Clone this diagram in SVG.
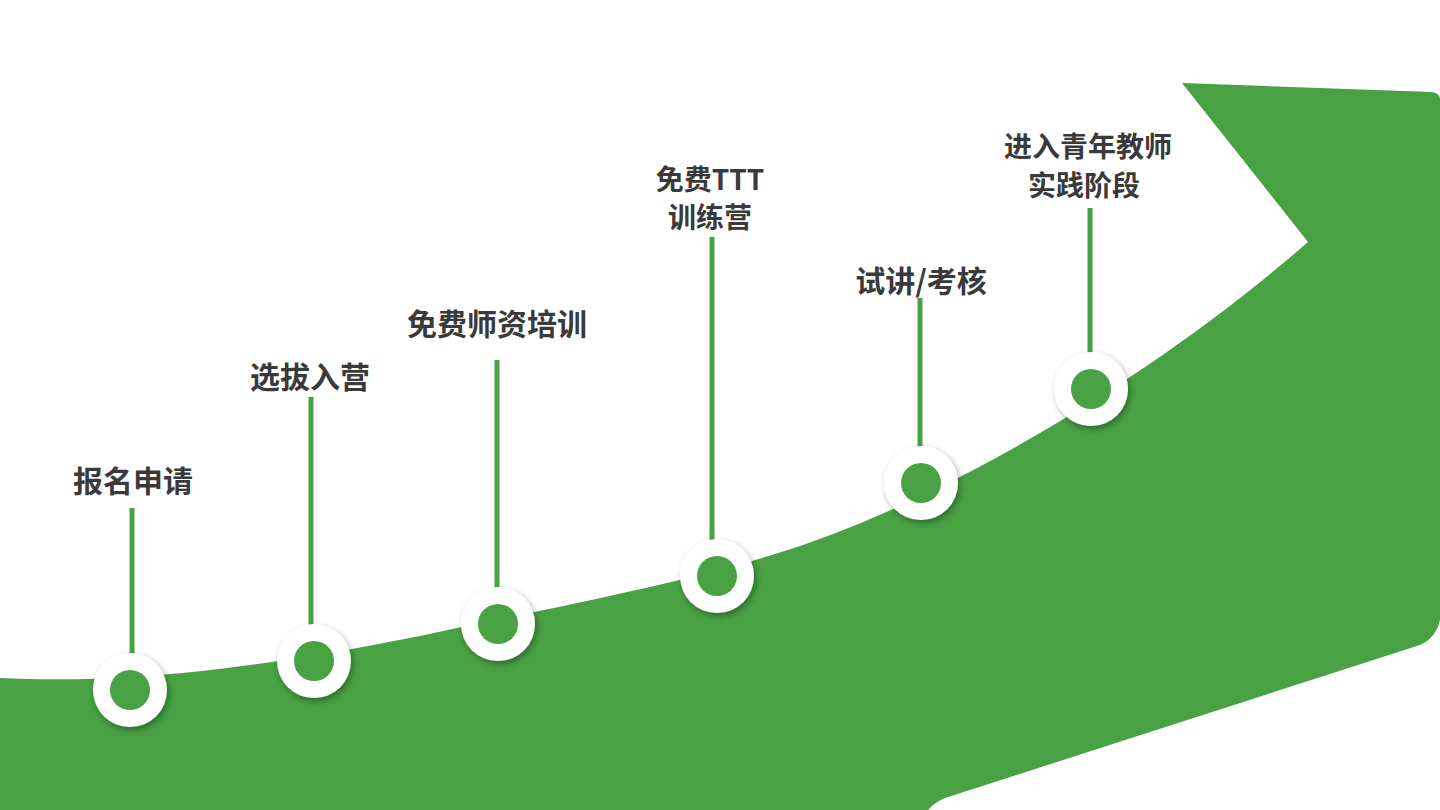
<svg xmlns="http://www.w3.org/2000/svg" width="1440" height="810" viewBox="0 0 1440 810">
<style>
.t{font-family:"Noto Sans CJK SC","Liberation Serif",serif;font-weight:700;font-size:30px;fill:#3a3a3a;text-anchor:middle}
.m{font-size:28px}
.s{stroke:#48a143;stroke-width:5;fill:none}
.o{fill:#fff;filter:url(#sh)}
.i{fill:#48a143}
</style>
<defs>
<filter id="sh" x="-30%" y="-30%" width="160%" height="160%"><feDropShadow dx="2" dy="3" stdDeviation="3" flood-color="#000" flood-opacity="0.35"/></filter>
</defs>
<rect width="1440" height="810" fill="#fff"/>
<path d="M0,678 C120,684 250,670 420,636 C560,606 700,580 800,546 C950,495 1150,380 1308,242 L1182,83 L1432,92 Q1440,93 1440,100 L1440,620 Q1436,638 1420,645 L945,798 Q935,802 928,810 L0,810 Z" fill="#48a143"/>
<g id="connectors">
<line class="s" x1="132" y1="508" x2="132" y2="660"/>
<line class="s" x1="311" y1="397" x2="311" y2="632"/>
<line class="s" x1="497" y1="360" x2="497" y2="592"/>
<line class="s" x1="712" y1="237" x2="712" y2="545"/>
<line class="s" x1="920" y1="298" x2="920" y2="452"/>
<line class="s" x1="1090" y1="208" x2="1090" y2="358"/>
</g>
<g id="n1"><circle class="o" cx="130" cy="690" r="37"/><circle class="i" cx="130" cy="690" r="20"/><text class="t" x="133" y="492">报名申请</text></g>
<g id="n2"><circle class="o" cx="314" cy="661" r="37"/><circle class="i" cx="314" cy="661" r="20"/><text class="t" x="310" y="388">选拔入营</text></g>
<g id="n3"><circle class="o" cx="498" cy="624" r="37"/><circle class="i" cx="498" cy="624" r="20"/><text class="t" x="497" y="335">免费师资培训</text></g>
<g id="n4"><circle class="o" cx="717" cy="576" r="37"/><circle class="i" cx="717" cy="576" r="20"/><text class="t m" x="710" y="190">免费TTT</text><text class="t m" x="710" y="228">训练营</text></g>
<g id="n5"><circle class="o" cx="921" cy="483" r="37"/><circle class="i" cx="921" cy="483" r="20"/><text class="t" x="921" y="292">试讲/考核</text></g>
<g id="n6"><circle class="o" cx="1091" cy="389" r="37"/><circle class="i" cx="1091" cy="389" r="20"/><text class="t m" x="1088" y="157">进入青年教师</text><text class="t m" x="1084" y="196">实践阶段</text></g>
</svg>
